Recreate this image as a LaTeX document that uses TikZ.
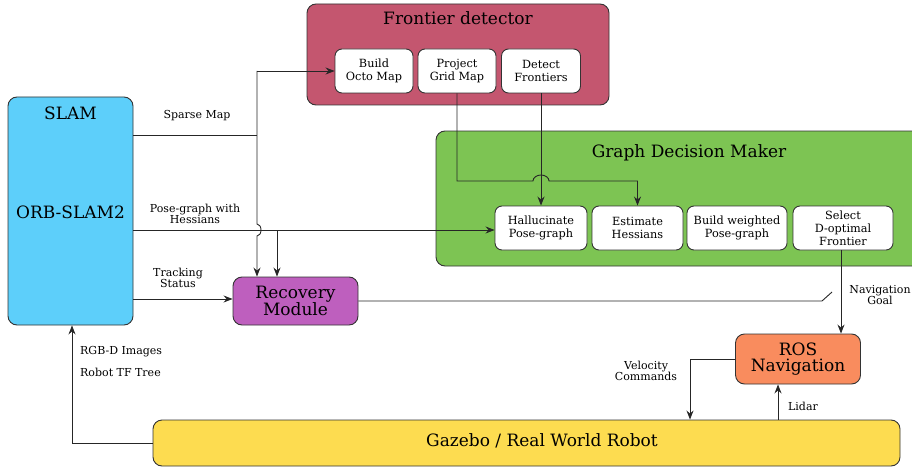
\documentclass[tikz,border=0pt]{standalone}
\usepackage{fontspec}
\setmainfont{DejaVu Serif}
\usetikzlibrary{arrows.meta,calc}
\definecolor{fdcol}{HTML}{C4566F}
\definecolor{slamcol}{HTML}{5DCFFA}
\definecolor{gdmcol}{HTML}{7DC453}
\definecolor{reccol}{HTML}{BE5FBE}
\definecolor{roscol}{HTML}{F98C5E}
\definecolor{gazcol}{HTML}{FDDC50}
\tikzset{
  box/.style={draw=black!80, line width=0.9pt, rounded corners=9pt, inner sep=0pt},
  subbox/.style={box, fill=white, rounded corners=7pt, minimum height=44pt, align=center,
    font=\fontsize{11.3}{13}\selectfont},
  bigtxt/.style={inner sep=0pt, align=center, font=\fontsize{17}{17}\selectfont},
  lbl/.style={inner sep=0pt, align=center, font=\fontsize{11}{11.5}\selectfont},
  conn/.style={draw=black!85, line width=0.9pt},
  arr/.style={conn, -{Stealth[length=9pt,width=7pt,inset=3pt]}}
}
\begin{document}
\begin{tikzpicture}[x=1pt,y=-1pt]
\useasboundingbox (0,0) rectangle (912,468);
% containers
\node[box, fill=fdcol, minimum width=302pt, minimum height=101pt] (fd) at (458,54.5) {};
\node[bigtxt] (fdt) at (458,18) {Frontier detector};
\node[box, fill=gdmcol, minimum width=490pt, minimum height=135pt] (gdm) at (681,198.5) {};
\node[bigtxt] (gdmt) at (689,153) {Graph Decision Maker};
\node[box, fill=slamcol, minimum width=125pt, minimum height=228pt] (slam) at (70.5,211) {};
\node[bigtxt] (slamt) at (70.5,113) {SLAM};
\node[bigtxt] (orb) at (70.5,212) {ORB-SLAM2};
\node[box, fill=reccol, minimum width=125pt, minimum height=48pt, font=\fontsize{17}{15}\selectfont, align=center] (rec) at (295.5,301) {Recovery\\Module};
\node[box, fill=roscol, minimum width=125pt, minimum height=50pt, font=\fontsize{17}{16}\selectfont, align=center] (ros) at (798,359) {ROS\\Navigation};
\node[box, fill=gazcol, minimum width=747pt, minimum height=46pt] (gaz) at (526.5,443) {};
\node[bigtxt] (gazt) at (542,441) {Gazebo / Real World Robot};
% sub boxes
\node[subbox, minimum width=78pt] (octo) at (374,71) {Build\\Octo Map};
\node[subbox, minimum width=78pt] (proj) at (457,71) {Project\\Grid Map};
\node[subbox, minimum width=79pt] (det) at (541,71) {Detect\\Frontiers};
\node[subbox, minimum width=92pt] (hal) at (541,228) {Hallucinate\\Pose-graph};
\node[subbox, minimum width=91pt] (est) at (637.5,228) {Estimate\\Hessians};
\node[subbox, minimum width=100pt] (bwp) at (737,228) {Build weighted\\Pose-graph};
\node[subbox, minimum width=100pt] (sel) at (843,228) {Select\\D-optimal\\Frontier};
% labels
\node[lbl] (lsm) at (197,116) {Sparse Map};
\node[lbl] (lpg) at (195,214) {Pose-graph with\\Hessians};
\node[lbl] (lts) at (178,278) {Tracking\\Status};
\node[lbl, anchor=west] (lrgb) at (80,352) {RGB-D Images};
\node[lbl, anchor=west] (ltf) at (80,372) {Robot TF Tree};
\node[lbl] (lvc) at (646,371) {Velocity\\Commands};
\node[lbl] (llid) at (803,406) {Lidar};
\node[lbl] (lng) at (880,295) {Navigation\\Goal};
% helper coordinates
\coordinate (sj) at (257,135);
\coordinate (hy) at (0,181);
\coordinate (pg) at (0,230);
\coordinate (pgb) at (277,230);
\coordinate (ts) at (0,299);
\coordinate (rbend) at (822,301);
\coordinate (rend) at (832,292);
\coordinate (ng) at (841,0);
\coordinate (vc) at (690,0);
\coordinate (ld) at (778,0);
\coordinate (rg) at (72,0);
% connectors
\draw[conn] (slam.east |- sj) -- (sj);
\draw[arr] (sj |- octo.west) -- (octo.west);
\draw[arr] (sj |- octo.west) -- (257,224) arc[start angle=90, end angle=-90, x radius=4pt, y radius=6pt] -- (sj |- rec.north);
\draw[arr] (slam.east |- pg) -- (hal.west |- pg);
\draw[arr] (pgb) -- (pgb |- rec.north);
\draw[arr] (slam.east |- ts) -- (rec.west |- ts);
\draw[conn] (rec.east) -- (rbend) -- (rend);
\draw[arr] (proj.south) -- (proj.south |- hy) -- ([xshift=-8pt]det.south |- hy) arc[start angle=180, end angle=0, x radius=8pt, y radius=6pt] -- (est.north |- hy) -- (est.north);
\draw[arr] (det.south) -- (hal.north);
\draw[arr] (ng |- sel.south) -- (ng |- ros.north);
\draw[arr] (ros.west) -| (vc |- gaz.north);
\draw[arr] (ld |- gaz.north) -- (ld |- ros.south);
\draw[arr] (gaz.west) -| (rg |- slam.south);
\end{tikzpicture}
\end{document}
